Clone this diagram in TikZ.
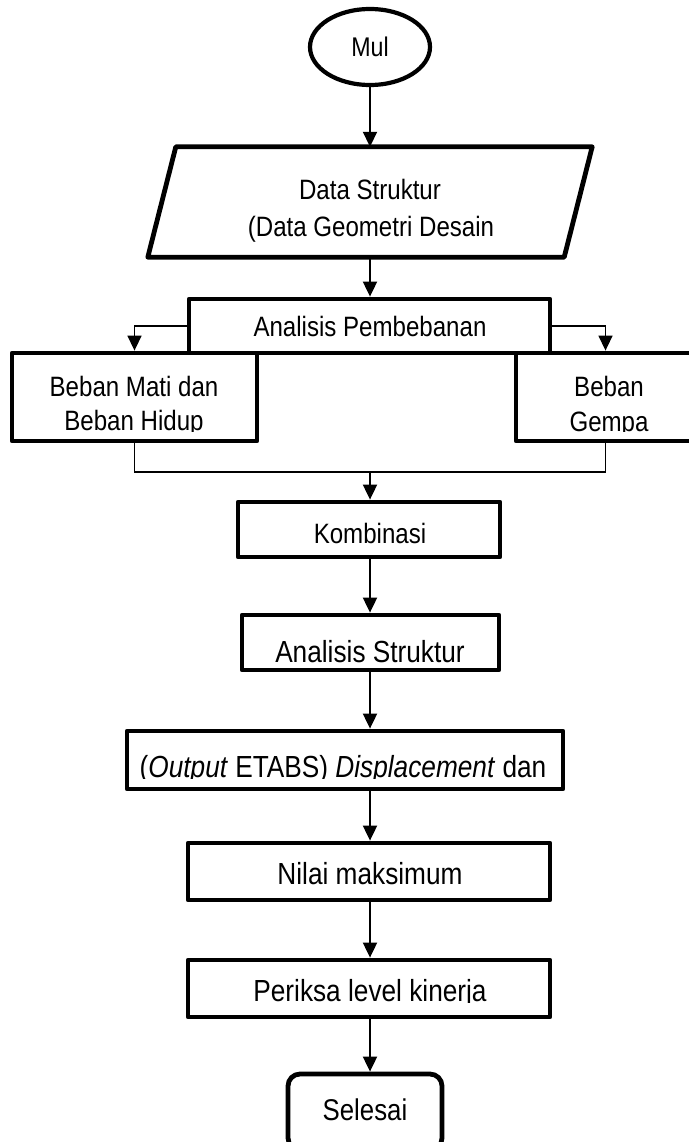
\documentclass[tikz,border=0pt]{standalone}
\usepackage{fontspec}
\setmainfont{Liberation Sans}
\newfontfamily\narrowsans[FakeStretch=0.86]{Liberation Sans}
\usetikzlibrary{arrows.meta,shapes.geometric,calc}
\begin{document}
\begin{tikzpicture}[x=1pt,y=-1pt,
  box/.style={draw,line width=4.8pt,line join=round,inner sep=0pt},
  conn/.style={line width=1.9pt},
  arr/.style={conn,-{Triangle[length=15pt,width=14pt]}},
  thinarr/.style={line width=1.5pt,-{Triangle[length=15pt,width=14pt]}},
  thinline/.style={line width=1.5pt},
  lbl/.style={inner sep=0pt,anchor=base,font=\narrowsans\fontsize{28}{35}\selectfont},
  lblb/.style={inner sep=0pt,anchor=base,font=\narrowsans\fontsize{30.5}{35}\selectfont}]
\useasboundingbox (0,0) rectangle (688,1142);

% shapes
\node[draw,ellipse,line width=4.2pt,minimum width=120pt,minimum height=76pt,inner sep=0pt] (mul) at (370,47) {};
\node[minimum width=416pt,minimum height=110pt,inner sep=0pt] (data) at (370,202) {};
\draw[line width=4.8pt,line join=round]
  ($(data.north west)+(14,0)$) -- ($(data.north east)+(14,0)$) --
  ($(data.south east)+(-14,0)$) -- ($(data.south west)+(-14,0)$) -- cycle;
\node[box,minimum width=361pt,minimum height=54pt] (ap) at (369.5,326) {};
\node[box,minimum width=245pt,minimum height=88pt] (bml) at (134.5,397) {};
\node[box,minimum width=179pt,minimum height=88pt] (bg) at (605.5,397) {};
\node[box,minimum width=262pt,minimum height=55pt] (komb) at (369,529.5) {};
\node[box,minimum width=257pt,minimum height=55pt] (as) at (370.5,642.5) {};
\node[box,minimum width=436pt,minimum height=58pt] (out) at (345,760) {};
\node[box,minimum width=362pt,minimum height=57pt] (nilai) at (369,871.5) {};
\node[box,minimum width=362pt,minimum height=57pt] (periksa) at (369,988.5) {};
\node[box,rounded corners=12pt,minimum width=154pt,minimum height=76pt] (sel) at (365,1112) {};

% texts
\node[lbl,font=\narrowsans\fontsize{27}{30}\selectfont] (tmul) at (370,57) {Mul};
\node[lbl] (td1) at (370,200) {Data Struktur};
\node[lbl] (td2) at (371,236) {(Data Geometri Desain};
\node[lbl] (tap) at (370,336) {Analisis Pembebanan};
\node[lbl] (tbm1) at (134,396) {Beban Mati dan};
\begin{scope}
  \clip (0,0) rectangle (688,431);
  \node[lbl] (tbm2) at (134,430) {Beban Hidup};
  \node[lbl] (tbg2) at (609,431) {Gempa};
\end{scope}
\node[lbl] (tbg1) at (609,396) {Beban};
\node[lbl] (tkomb) at (370,543) {Kombinasi};
\node[lblb] (tas) at (370,662) {Analisis Struktur};
\begin{scope}
  \clip (0,700) rectangle (688,778);
  \node[lblb] (tout) at (343,777) {(\textit{Output} ETABS) \textit{Displacement} dan};
\end{scope}
\node[lblb] (tnilai) at (370,884) {Nilai maksimum};
\begin{scope}
  \clip (0,950) rectangle (688,1002);
  \node[lblb] (tper) at (370,1001) {Periksa level kinerja};
\end{scope}
\node[lblb,font=\narrowsans\fontsize{30}{35}\selectfont] (tsel) at (365,1120) {Selesai};

% connectors
\draw[arr] (mul.south) -- (data.north);
\draw[arr] (data.south) -- (data.south |- ap.north);
\draw[thinarr] (ap.west) -| (bml.north);
\draw[thinarr] (ap.east) -| (bg.north);
\coordinate (join) at (370,472);
\draw[thinline] (bml.south) |- (join) -| (bg.south);
\draw[arr] (join) -- (join |- komb.north);
\draw[arr] (join |- komb.south) -- (join |- as.north);
\draw[arr] (join |- as.south) -- (join |- out.north);
\draw[arr] (join |- out.south) -- (join |- nilai.north);
\draw[arr] (join |- nilai.south) -- (join |- periksa.north);
\draw[arr] (join |- periksa.south) -- (join |- sel.north);
\end{tikzpicture}
\end{document}
